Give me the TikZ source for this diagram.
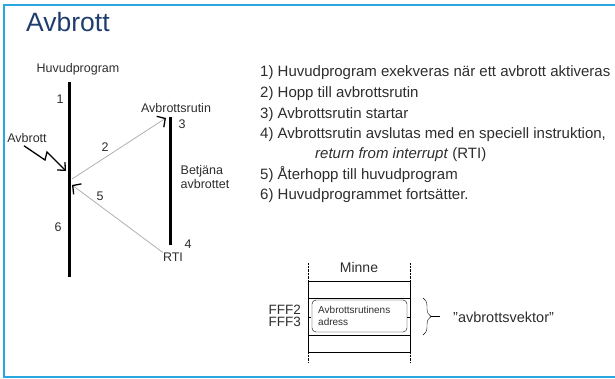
\documentclass[tikz,border=0pt]{standalone}
\usepackage{fontspec}
\setmainfont{Liberation Sans}
\usetikzlibrary{arrows.meta,decorations.pathreplacing}
\definecolor{frameBlue}{RGB}{41,168,224}
\definecolor{titleBlue}{RGB}{31,62,110}
\definecolor{textGray}{RGB}{45,45,45}
\definecolor{jumpGray}{RGB}{175,175,175}
\tikzset{
  label/.style={font=\fontsize{12.5}{14}\selectfont,text=textGray,inner sep=0pt,align=left},
  item/.style={anchor=base west,font=\fontsize{15}{17}\selectfont,text=textGray,inner sep=0pt},
  memtext/.style={font=\fontsize{14}{16}\selectfont,text=textGray,inner sep=0pt},
  jump/.style={jumpGray,line width=0.8pt,-{Straight Barb[color=black,length=6pt,width=13pt,line width=1.3pt]}}
}

\begin{document}
\begin{tikzpicture}[x=1pt,y=-1pt]
\useasboundingbox (0,0) rectangle (615,379);
\draw[frameBlue,line width=2pt] (620,5) -- (4,5) -- (4,377) -- (620,377);
\node[anchor=base west,font=\fontsize{26.5}{30}\selectfont,text=titleBlue,inner sep=0pt] (title) at (26,32) {Avbrott};
% huvudprogram och avbrottsrutin
\coordinate (mtop) at (69,82);
\coordinate (mbot) at (69,277);
\coordinate (rtop) at (170,117);
\coordinate (rbot) at (170,245);
\draw[line width=3pt] (mtop) -- (mbot);
\draw[line width=3pt] (rtop) -- (rbot);
\node[label] (huvud) at (78,69) {Huvudprogram};
\node[label] (rutin) at (176,108) {Avbrottsrutin};
\node[label] (betj) at (205,177) {Betjäna\\avbrottet};
\node[label] (rti) at (173,257) {RTI};
\node[label] (avbr) at (27,138) {Avbrott};
\node[label] (n1) at (60,99) {1};
\node[label] (n2) at (105,147) {2};
\node[label] (n3) at (182,124) {3};
\node[label] (n4) at (188,244) {4};
\node[label] (n5) at (100,196) {5};
\node[label] (n6) at (58,227) {6};
\coordinate (hit) at (66,171);
\coordinate (jfrom) at (72,179);
\coordinate (jto) at (166,118);
\coordinate (back) at (72,185);
\draw[line width=1.3pt,-{Straight Barb[length=6pt,width=11pt]}] (avbr.south) ++(-3,3) -- (45,160) -- (47,152) -- (hit);
\draw[jump] (jfrom) -- (jto);
\draw[jump] (rti.north west) -- (back);
% lista
\node[item] (item1) at (260,77) {1) Huvudprogram exekveras när ett avbrott aktiveras};
\node[item] (item2) at (260,98) {2) Hopp till avbrottsrutin};
\node[item] (item3) at (260,119) {3) Avbrottsrutin startar};
\node[item] (item4) at (260,139) {4) Avbrottsrutin avslutas med en speciell instruktion,};
\node[item] (item4b) at (315,159) {\textit{return from interrupt} (RTI)};
\node[item] (item5) at (260,180) {5) Återhopp till huvudprogram};
\node[item] (item6) at (260,200) {6) Huvudprogrammet fortsätter.};
% minne
\draw[densely dotted] (308,263) -- (308,281);
\draw[densely dotted] (410,263) -- (410,281);
\draw[densely dotted] (308,352) -- (308,362);
\draw[densely dotted] (410,352) -- (410,362);
\draw (308,281) -- (308,352);
\draw (410,281) -- (410,352);
\foreach \y in {281,298,335,352} \draw (308,\y) -- (410,\y);
\draw (308,317) -- (311,317);
\draw (407,317) -- (410,317);
\node[memtext] (minne) at (359,267) {Minne};
\node[draw,rounded corners=4pt,minimum width=95pt,minimum height=32pt,inner sep=0pt] (vbox) at (359.5,316) {};
\node[anchor=west,font=\fontsize{10}{11.5}\selectfont,text=textGray,inner sep=0pt,align=left] (adr) at (318,316) {Avbrottsrutinens\\adress};
\node[memtext,anchor=east,align=right,font=\fontsize{13.5}{12.5}\selectfont] (fff) at (301,316) {FFF2\\FFF3};
\draw[decorate,decoration={brace,amplitude=8pt}] (423,298) -- (423,335);
\node[memtext,anchor=west,font=\fontsize{14.5}{16}\selectfont] (vektor) at (453,317) {\char34 avbrottsvektor\char34};
\draw (431,316.5) -- (440,316.5);
\end{tikzpicture}
\end{document}
